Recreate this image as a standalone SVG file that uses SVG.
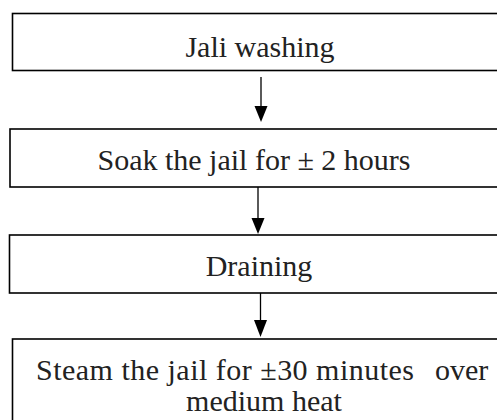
<svg xmlns="http://www.w3.org/2000/svg" width="497" height="420" viewBox="0 0 497 420">
  <style>
    .box { fill: #ffffff; stroke: #000000; stroke-width: 1.6; }
    .label { font-family: "Liberation Serif", "Times New Roman", serif; font-size: 30px; fill: #222222; }
    .mid { text-anchor: middle; }
    .wire { stroke: #000000; stroke-width: 1.3; fill: none; }
    .head { fill: #000000; stroke: none; }
  </style>
  <rect width="497" height="420" fill="#ffffff"/>

  <g id="step-washing">
    <rect class="box" x="12.5" y="13.5" width="500" height="57"/>
    <text class="label mid" x="260" y="57">Jali washing</text>
  </g>

  <g id="step-soak">
    <rect class="box" x="10" y="129" width="500" height="58"/>
    <text class="label mid" x="254" y="170">Soak the jail for ± 2 hours</text>
  </g>

  <g id="step-draining">
    <rect class="box" x="9.5" y="235" width="500" height="58"/>
    <text class="label mid" x="259" y="276">Draining</text>
  </g>

  <g id="step-steam">
    <rect class="box" x="12.5" y="339" width="500" height="100"/>
    <text class="label" y="380"><tspan x="36" textLength="378" lengthAdjust="spacing">Steam the jail for ±30 minutes</tspan><tspan x="435">over</tspan></text>
    <text class="label mid" x="264" y="411">medium heat</text>
  </g>

  <g id="connectors">
    <line class="wire" x1="261" y1="77" x2="261" y2="108"/>
    <polygon class="head" points="254.5,106 267.5,106 261,122"/>
    <line class="wire" x1="258" y1="187" x2="258" y2="220"/>
    <polygon class="head" points="251.5,218 264.5,218 258,234"/>
    <line class="wire" x1="260.5" y1="293" x2="260.5" y2="322"/>
    <polygon class="head" points="254,320 267,320 260.5,337"/>
  </g>
</svg>
